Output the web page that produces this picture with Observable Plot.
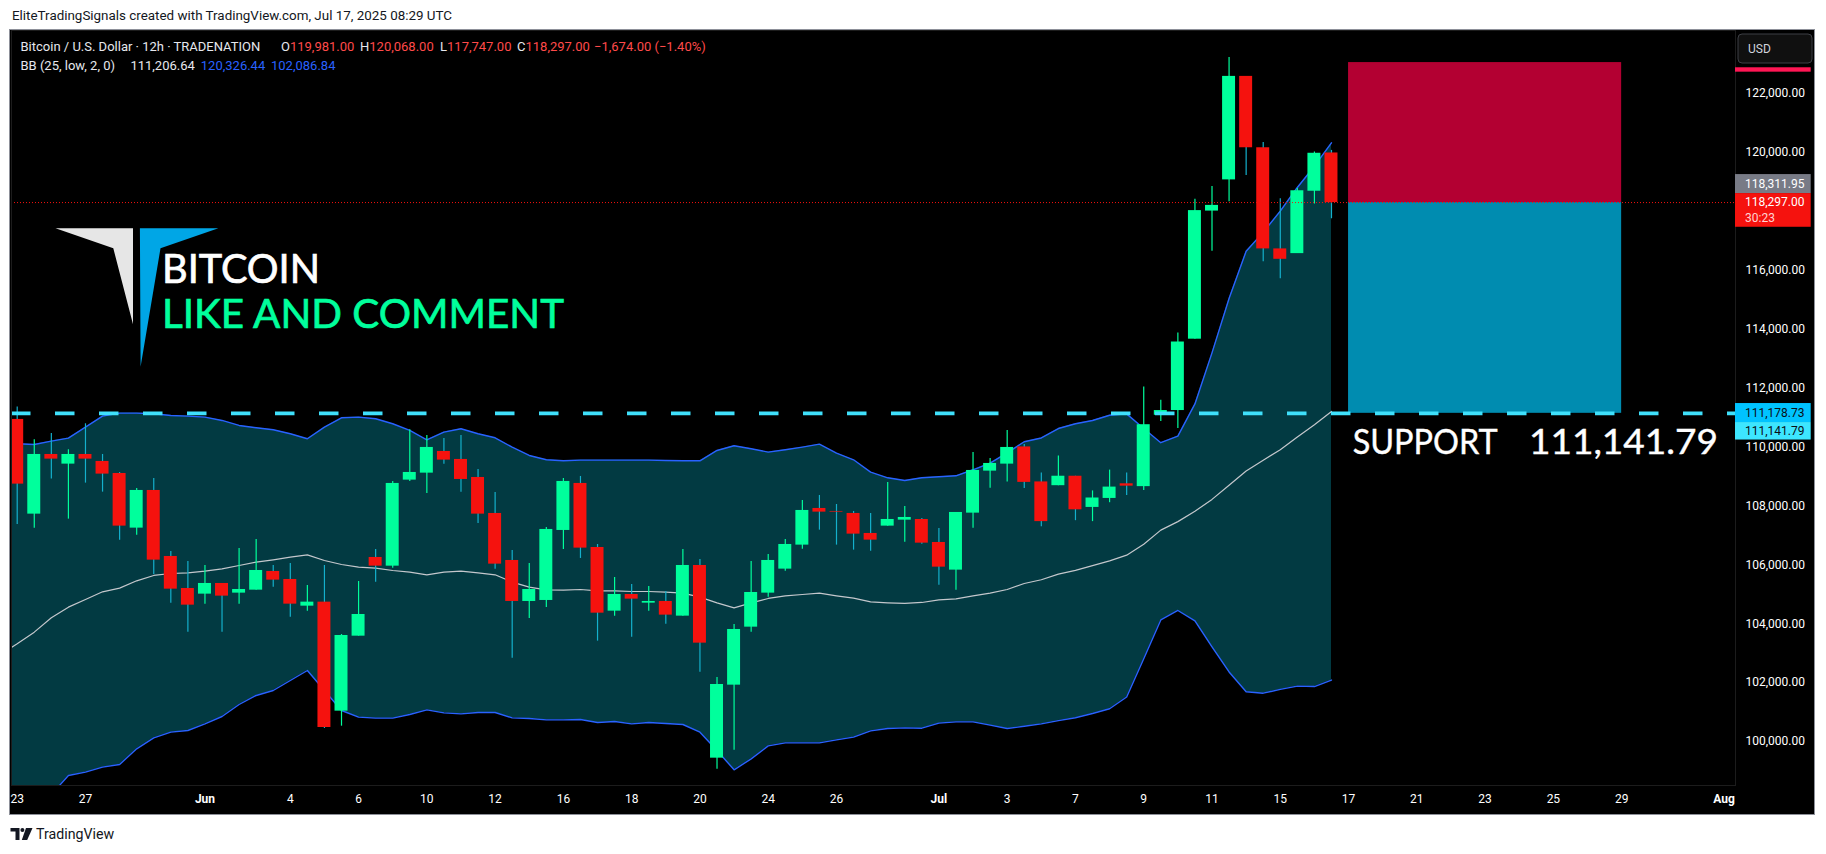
<!DOCTYPE html>
<html>
<head>
<meta charset="utf-8">
<script src="https://cdn.jsdelivr.net/npm/d3@7"></script>
<script src="https://cdn.jsdelivr.net/npm/@observablehq/plot@0.6"></script>
<style>
  html, body { margin:0; padding:0; background:#fff; width:1826px; height:854px; overflow:hidden; }
  body { position:relative; font-family: Roboto, "Noto Sans", sans-serif; }
  #hdr { position:absolute; left:12px; top:7px; font-size:13.4px; line-height:17px; color:#131722; white-space:nowrap; }
  #panel { position:absolute; left:9px; top:29px; width:1804px; height:784px; border:1px solid #8d9099; background:#000; overflow:hidden; }
  #overlay { position:absolute; left:0; top:0; width:1826px; height:854px; pointer-events:none; }
</style>
</head>
<body>
<div id="hdr">EliteTradingSignals created with TradingView.com, Jul 17, 2025 08:29 UTC</div>
<div id="panel"></div>
<svg id="overlay" width="1826" height="854" xmlns="http://www.w3.org/2000/svg"></svg>
<script>
// ---------- DATA (12h candles, weekend-less bar index) ----------
const opens = [110934,107719,109745,109417,109745,109508,109100,107244,108523,106282,
  105195,105003,105365,105037,105138,105772,105501,104595,104731,101030,
  103576,106248,105953,108874,109111,109847,109576,108964,107742,106146,
  104754,104788,107165,108761,106587,104425,104991,104697,104754,104256,
  105976,99434,101913,103882,105037,105852,106667,107912,107810,107742,
  107063,107312,107515,107538,106757,105818,107753,109179,109417,110001,
  108813,108685,109006,107947,108252,108749,108653,111076,111236,113659,
  118008,119067,122581,120158,116724,116564,118682,119981];
const highs = [111353,110243,110458,109904,110787,109745,109134,108591,108930,106451,
  106112,105976,105365,106553,106859,105976,106044,105297,105976,103633,
  105433,106519,108829,110583,110391,110289,110391,109236,108455,106485,
  106044,107266,108930,108998,106689,105569,105331,105263,105093,106519,
  106180,102173,103973,106112,106350,106859,108183,108353,108047,107810,
  107742,108795,107980,107572,107232,107776,109813,109609,110560,110081,
  109118,109696,109006,108508,109214,109118,112039,111589,113868,118409,
  118842,123223,122581,120335,118425,118778,120014,120068];
const lows = [107368,107244,108908,107549,108772,108466,106836,107006,105671,104697,
  103712,104663,103712,104663,105138,105240,104222,104425,100441,100520,
  103576,105410,105886,108829,108421,109417,108466,107402,105852,102829,
  104176,104550,106519,106214,103407,104256,103543,104425,103984,104256,
  102354,99060,99705,103712,104901,105784,106531,107176,106667,106497,
  106463,107312,106768,106700,105308,105138,107244,108602,108806,108588,
  107289,108685,107497,107465,108107,108348,108524,110867,110626,113659,
  116644,118329,119212,116291,115713,116564,118249,117747];
const closes = [108738,109745,109587,109745,109587,109078,107312,108523,106157,105172,
  104629,105365,104935,105161,105806,105478,104663,104731,100475,103599,
  104312,105953,108761,109134,109983,109553,108896,107719,106021,104754,
  105161,107199,108829,106565,104357,104991,104833,104754,104290,105976,
  103339,101935,103803,105059,106146,106689,107844,107787,107787,107040,
  106836,107538,107606,106734,105919,107776,109202,109440,109983,108797,
  107465,109006,107866,108267,108637,108669,110755,111236,113563,118024,
  118201,122581,120158,116724,116371,118698,119971,118297];

// Bollinger Bands (25, low, 2), bar -1 .. 77
const bbFirstBar = -1;
const bbUpper = [110150,110108,110085,110198,110300,110673,111047,111149,111149,111126,111070,
  111047,111013,110900,110730,110651,110583,110447,110277,110673,110990,
  111013,110956,110787,110560,110243,110504,110617,110447,110311,109994,
  109711,109564,109530,109553,109553,109553,109553,109553,109541,109530,
  109530,109881,110040,109938,109825,109904,109994,110096,109791,109564,
  109145,108953,108862,108953,108987,109021,109225,109451,109800,110177,
  110305,110626,110787,110899,111076,111124,110626,110145,110369,111461,
  113194,115039,116644,117286,118008,118810,119532,120326.44];
const bbMiddle = [102950,103316,103712,104199,104561,104822,105082,105206,105455,105637,105704,
  105727,105784,105863,105976,106089,106169,106259,106338,106146,106010,
  105919,105886,105806,105750,105659,105750,105784,105727,105659,105410,
  105240,105150,105138,105161,105116,105116,105093,105093,105071,105037,
  104901,104708,104539,104708,104856,104946,104991,105037,104946,104867,
  104742,104708,104686,104720,104810,104844,104946,105037,105160,105363,
  105491,105684,105812,105973,106133,106326,106695,107176,107465,107818,
  108219,108701,109182,109551,109904,110338,110755,111206.64];
const bbLower = [95750,96524,97339,98200,98845,98958,99128,99219,99751,100124,100317,
  100373,100600,100849,101256,101562,101732,102071,102411,101732,101052,
  100826,100792,100792,100917,101075,100973,100939,100984,100984,100803,
  100781,100735,100735,100747,100645,100679,100600,100645,100611,100577,
  100317,99694,99038,99411,99853,99954,99954,99954,100056,100147,
  100362,100441,100464,100452,100622,100667,100667,100554,100440,100517,
  100597,100709,100806,100950,101111,101512,102812,104127,104448,104095,
  103213,102362,101688,101640,101768,101881,101865,102086.84];

// Levels and the short-position drawing
const supportPrice = 111141.79;
const lastPrice = 118297;
const bidPrice = 118311.95;
const bluePrice = 111178.73;
const stopPrice = 123050;
const positionFromBar = 78;
const positionToBar = 94;

// Axis ticks (118,000 is hidden behind the price labels in the reference)
const priceTicks = [100000,102000,104000,106000,108000,110000,112000,114000,116000,120000,122000];
const dayTicks  = [0,4,16,20,24,28,32,36,40,44,48,58,62,66,70,74,78,82,86,90,94];
const dayLabels = ["23","27","4","6","10","12","16","18","20","24","26","3","7","9","11","15","17","21","23","25","29"];
const monthTicks  = [11,54,100];
const monthLabels = ["Jun","Jul","Aug"];

// ---------- TABLES ----------
const candles = opens.map((o, i) => ({i, o, h: highs[i], l: lows[i], c: closes[i]}));
const bands = bbUpper.map((u, k) => ({i: k + bbFirstBar, upper: u, middle: bbMiddle[k], lower: bbLower[k]}));
const position = {x1: positionFromBar, x2: positionToBar, stop: stopPrice, entry: lastPrice, target: supportPrice};
const dayMap = new Map(dayTicks.map((t, k) => [t, dayLabels[k]]));
const monMap = new Map(monthTicks.map((t, k) => [t, monthLabels[k]]));

const UP = "#00ff9c", DOWN = "#f5120e", UPWICK = "#00ff9c", DOWNWICK = "#14b0cc";
const fmt = d3.format(",.2f");

const chart = Plot.plot({
  width: 1804, height: 784,
  marginLeft: 1, marginRight: 79, marginTop: 0, marginBottom: 29,
  style: {background: "#000", color: "#ffffff", fontFamily: "Roboto, sans-serif", fontSize: "12px"},
  x: {domain: [-0.334, 100.67]},
  y: {domain: [98506, 124139]},
  color: {type: "identity"},
  marks: [
    Plot.areaY(bands, {x: "i", y1: "lower", y2: "upper", fill: "#023a42", clip: true}),
    Plot.line(bands, {x: "i", y: "upper", stroke: "#2962ff", strokeWidth: 1.4, clip: true}),
    Plot.line(bands, {x: "i", y: "lower", stroke: "#2962ff", strokeWidth: 1.4, clip: true}),
    Plot.line(bands, {x: "i", y: "middle", stroke: "#c4c7cc", strokeWidth: 1.2, clip: true}),
    Plot.rect([position], {x1: "x1", x2: "x2", y1: "entry", y2: "stop", fill: "#b30032"}),
    Plot.rect([position], {x1: "x1", x2: "x2", y1: "target", y2: "entry", fill: "#008cb0"}),
    Plot.ruleX(candles, {x: "i", y1: "l", y2: "h", stroke: d => d.c >= d.o ? UPWICK : DOWNWICK, strokeWidth: 1.2, clip: true}),
    Plot.rect(candles, {x1: d => d.i - 0.38, x2: d => d.i + 0.38, y1: "o", y2: "c",
      fill: d => d.c >= d.o ? UP : DOWN, clip: true}),
    Plot.ruleY([lastPrice], {stroke: DOWN, strokeWidth: 1, strokeDasharray: "1,2"}),
    Plot.ruleY([supportPrice], {stroke: "#3fe0fb", strokeWidth: 3.7, strokeDasharray: "19.5,24.5"}),
    Plot.frame({stroke: "#1c1c1c"}),
    Plot.axisY(priceTicks, {anchor: "right", tickSize: 0, tickPadding: 10, tickFormat: fmt, fill: "#ffffff", fontSize: 12}),
    Plot.axisX(dayTicks, {anchor: "bottom", tickSize: 0, tickPadding: 9, tickFormat: d => dayMap.get(d), fill: "#ffffff", fontSize: 12}),
    Plot.axisX(monthTicks, {anchor: "bottom", tickSize: 0, tickPadding: 9, tickFormat: d => monMap.get(d), fill: "#ffffff", fontSize: 12, fontWeight: "bold"})
  ]
});
document.getElementById("panel").appendChild(chart);

// ---------- OVERLAY (legend, drawings, axis labels) ----------
const ov = d3.select("#overlay");
const Y = p => 30 + chart.scale("y").apply(p);
const font = "Roboto, sans-serif";

function txt(x, y, s, size, fill, extra) {
  const t = ov.append("text").attr("x", x).attr("y", y).attr("font-family", font)
    .attr("font-size", size).attr("fill", fill).text(s);
  if (extra) for (const k in extra) t.attr(k, extra[k]);
  return t;
}
// legend line 1
const L = 77;
const chg = closes[L] - closes[L - 1];
txt(20.5, 51, "Bitcoin / U.S. Dollar · 12h · TRADENATION", 13, "#e6e8ee");
const ohlc = [["O", opens[L], 281], ["H", highs[L], 360], ["L", lows[L], 440], ["C", closes[L], 517]];
for (const [k, v, x] of ohlc) {
  const t = txt(x, 51, "", 13, "#e6e8ee");
  t.append("tspan").text(k);
  t.append("tspan").attr("fill", "#ff4a4a").text(fmt(v));
}
txt(594, 51, fmt(chg).replace("-", "\u2212") + " (" + d3.format(".2f")(chg / closes[L - 1] * 100).replace("-", "\u2212") + "%)", 13, "#ff4a4a");
// legend line 2
txt(20.5, 70, "BB (25, low, 2, 0)", 13, "#e6e8ee");
txt(130.4, 70, fmt(bbMiddle[bbMiddle.length - 1]), 13, "#e6e8ee");
txt(200.8, 70, fmt(bbUpper[bbUpper.length - 1]), 13, "#2962ff");
txt(271, 70, fmt(bbLower[bbLower.length - 1]), 13, "#2962ff");

// logo
ov.append("polygon").attr("points", "55.5,228.3 133,228.3 133,324.3 113.3,248.3").attr("fill", "#e6e6e6");
ov.append("polygon").attr("points", "139.9,228.3 218.4,228.3 160.5,248.3 140.6,366.7").attr("fill", "#00a6e6");
txt(162, 283.3, "BITCOIN", 41, "#ffffff", {"font-family": "Lato, sans-serif", textLength: 158, lengthAdjust: "spacingAndGlyphs", stroke: "#ffffff", "stroke-width": 0.7});
txt(162, 327.7, "LIKE AND COMMENT", 41, "#00ff9c", {"font-family": "Lato, sans-serif", textLength: 402, lengthAdjust: "spacingAndGlyphs", stroke: "#00ff9c", "stroke-width": 0.7});

// SUPPORT annotation
txt(1352.7, 454, "SUPPORT", 34, "#ffffff", {"font-family": "Lato, sans-serif", textLength: 145, lengthAdjust: "spacingAndGlyphs", stroke: "#ffffff", "stroke-width": 0.4});
txt(1529, 454, fmt(supportPrice), 34, "#ffffff", {"font-family": "Lato, sans-serif", textLength: 189, lengthAdjust: "spacingAndGlyphs", stroke: "#ffffff", "stroke-width": 0.4});

// right-axis price labels
const ax0 = 1735, axW = 75.7, tx = 1745;
function box(top, h, fill) { ov.append("rect").attr("x", ax0).attr("y", top).attr("width", axW).attr("height", h).attr("fill", fill); }
box(Y(stopPrice) + 5.2, 4.4, "#ff1654");
const yLast = Y(lastPrice);
box(yLast - 9 - 19, 19, "#787b86");
txt(tx, yLast - 18.5 + 4.3, fmt(bidPrice), 12, "#ffffff");
box(yLast - 9, 33.7, DOWN);
txt(tx, yLast + 4.3, fmt(lastPrice), 12, "#ffffff");
txt(tx, yLast + 15.6 + 4.3, "30:23", 12, "#ffd2d2");
const yBlue = Y(bluePrice);
box(yBlue - 8.7, 19, "#00c3ff");
txt(tx, yBlue + 0.8 + 4.3, fmt(bluePrice), 12, "#0b0e14");
box(yBlue + 10.3, 17.5, "#3de6ff");
txt(tx, yBlue + 19 + 4.3, fmt(supportPrice), 12, "#0b0e14");

// USD button
ov.append("rect").attr("x", 1738).attr("y", 34).attr("width", 74).attr("height", 29).attr("rx", 4)
  .attr("fill", "#101010").attr("stroke", "#3d3f45").attr("stroke-width", 1);
txt(1748, 52.5, "USD", 12, "#d1d4dc");

// TradingView footer logo
ov.append("path").attr("d", "M10.5,828 H19.5 V840 H15.5 V831.5 H10.5 Z").attr("fill", "#131722");
ov.append("circle").attr("cx", 22.4).attr("cy", 830).attr("r", 2).attr("fill", "#131722");
ov.append("path").attr("d", "M26,828 H32.5 L27.2,840 H21.8 Z").attr("fill", "#131722");
txt(36, 839, "TradingView", 14.2, "#131722");
</script>
</body>
</html>
